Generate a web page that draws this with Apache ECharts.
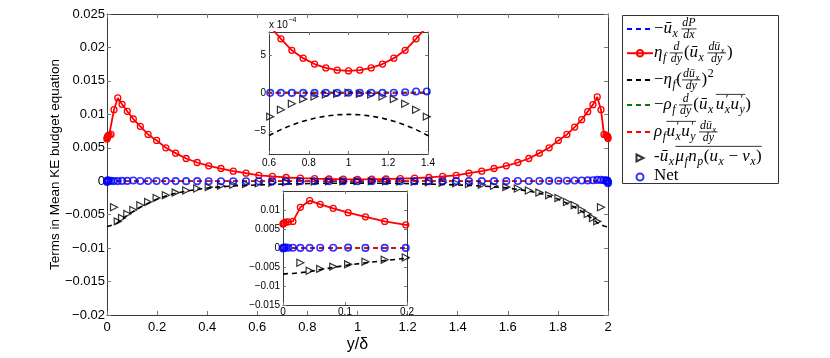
<!DOCTYPE html>
<html><head><meta charset="utf-8">
<script src="https://cdn.jsdelivr.net/npm/echarts@6/dist/echarts.min.js"></script>
<style>html,body{margin:0;padding:0;background:#fff}#c{width:830px;height:358px}</style>
</head><body><div id="c"></div>
<script>
// ---------------- data ----------------
const yPos = [0, 0.0005, 0.002, 0.0045, 0.0085, 0.016, 0.028, 0.043, 0.060, 0.081,
  0.105, 0.133, 0.164, 0.198, 0.235, 0.274, 0.316, 0.360, 0.406, 0.455,
  0.504, 0.555, 0.606, 0.660, 0.715, 0.772, 0.829, 0.886, 0.943, 1.000,
  1.057, 1.114, 1.171, 1.228, 1.285, 1.340, 1.394, 1.445, 1.496, 1.545,
  1.594, 1.640, 1.684, 1.726, 1.765, 1.802, 1.836, 1.867, 1.895, 1.919,
  1.940, 1.957, 1.972, 1.984, 1.9915, 1.9955, 1.998, 1.9995, 2.000];

const pressureWork = [0,0,0,0,0,0,0,0,0,0,
  0,0,0,0,0,0,0,0,0,0,
  0,0,0,0,0,0,0,0,0,0,
  0,0,0,0,0,0,0,0,0,0,
  0,0,0,0,0,0,0,0,0,0,
  0,0,0,0,0,0,0,0,0];

const viscousDiffusion = [0.0063, 0.0065, 0.0066, 0.0068, 0.0069, 0.0070, 0.0107, 0.01245, 0.0115, 0.01045,
  0.0093, 0.0082, 0.0070, 0.0061, 0.0050, 0.0042, 0.0034, 0.0028, 0.0023, 0.0019,
  0.0015, 0.0012, 0.00087, 0.00071, 0.00056, 0.000457, 0.00038, 0.000329, 0.000299, 0.00029,
  0.000299, 0.000329, 0.00038, 0.000457, 0.00056, 0.00071, 0.00087, 0.0012, 0.0015, 0.0019,
  0.0023, 0.0028, 0.0034, 0.0042, 0.0050, 0.0061, 0.0070, 0.0081, 0.0092, 0.0104,
  0.01145, 0.0126, 0.0107, 0.0070, 0.0069, 0.0068, 0.0067, 0.0066, 0.0064];

const viscousDissipation = [-0.0068, -0.0068, -0.0068, -0.0068, -0.0067, -0.0067, -0.0065, -0.0062, -0.0057, -0.0051,
  -0.0045, -0.0039, -0.0033, -0.0027, -0.0022, -0.0018, -0.00148, -0.00122, -0.00100, -0.00084,
  -0.00071, -0.00062, -0.00055, -0.00048, -0.00042, -0.00037, -0.00033, -0.000303, -0.000286, -0.00028,
  -0.000286, -0.000303, -0.00033, -0.00037, -0.00042, -0.00048, -0.00055, -0.00062, -0.00071, -0.00084,
  -0.00100, -0.00122, -0.00148, -0.0018, -0.0022, -0.0027, -0.0033, -0.0039, -0.0045, -0.0051,
  -0.0057, -0.0062, -0.0065, -0.0067, -0.0067, -0.0068, -0.0068, -0.0068, -0.0068];

const turbulentTransport = [0.00001,0.00001,0.00001,0.00001,0.00001,0.00001,0.00001,0.00001,0.00001,0.00001,
  0.00001,0.00001,0.00001,0.00001,0.00001,0.00001,0.00001,0.00001,0.00001,0.00001,
  0.00001,0.00001,0.00001,0.00001,0.00001,0.00001,0.00001,0.00001,0.00001,0.00001,
  0.00001,0.00001,0.00001,0.00001,0.00001,0.00001,0.00001,0.00001,0.00001,0.00001,
  0.00001,0.00001,0.00001,0.00001,0.00001,0.00001,0.00001,0.00001,0.00001,0.00001,
  0.00001,0.00001,0.00001,0.00001,0.00001,0.00001,0.00001,0.00001,0.00001];

const turbulentProduction = [-0.000004,-0.000004,-0.000004,-0.000004,-0.000004,-0.000004,-0.000004,-0.000004,-0.000004,-0.000004,
  -0.000004,-0.000004,-0.000004,-0.000004,-0.000004,-0.000004,-0.000004,-0.000004,-0.000004,-0.000004,
  -0.000004,-0.000004,-0.000004,-0.000004,-0.000004,-0.000004,-0.000004,-0.000004,-0.000004,-0.000004,
  -0.000004,-0.000004,-0.000004,-0.000004,-0.000004,-0.000004,-0.000004,-0.000004,-0.000004,-0.000004,
  -0.000004,-0.000004,-0.000004,-0.000004,-0.000004,-0.000004,-0.000004,-0.000004,-0.000004,-0.000004,
  -0.000004,-0.000004,-0.000004,-0.000004,-0.000004,-0.000004,-0.000004,-0.000004,-0.000004];

const particleDrag = [null, null, null, null, null, null, -0.0039, -0.0060, -0.0055, -0.0049,
  -0.0043, -0.0036, -0.0031, -0.0025, -0.0021, -0.0017, -0.0014, -0.0011, -0.00088, -0.00068,
  -0.00052, -0.00041, -0.00031, -0.00022, -0.00014, -0.00008, -0.000047, -0.00002, -0.00001, 0.000003,
  -0.00001, -0.00002, -0.000047, -0.00008, -0.00014, -0.00022, -0.00031, -0.00041, -0.00052, -0.00068,
  -0.00088, -0.0011, -0.0014, -0.0017, -0.0021, -0.0025, -0.0031, -0.0036, -0.0043, -0.0049,
  -0.0055, -0.0060, -0.0039, null, null, null, null, null, null];

const netTerm = [-0.0001, 0.00005, 0.0001, 0.0001, 0.00008, 0.00005, 0.00002, 0.00002, 0.00005, 0.00005,
  0.0001, 0.00003, 0.00003, 0.00003, 0.00002, 0.00002, 0.00001, 0.00001, 0.000005, 0.000005,
  0.000004, 0.000003, 0.000002, 0.000002, 0.000001, 0.000001, 0.000001, 0.000001, 0.000002, 0.000003,
  0.000002, 0.000002, 0.000002, 0.000003, 0.00001, 0.00002, 0.00002, 0.00001, 0.00002, 0.00001,
  0.00002, 0.00003, 0.00003, 0.00004, 0.00005, 0.00006, 0.00008, 0.0001, 0.0001, 0.00012,
  0.00015, 0.0002, 0.0002, 0.00015, 0.0001, 0.0001, 0.00005, -0.0001, -0.0003];

const seriesNames = ['Pressure work', 'Viscous diffusion', 'Viscous dissipation',
  'Turbulent transport', 'Turbulent production', 'Particle drag', 'Net'];

const inset1XTicks = [0.6, 0.8, 1, 1.2, 1.4];
const inset1YTicks = [-0.0005, 0, 0.0005];
const inset2YTicks = [-0.015, -0.01, -0.005, 0, 0.005, 0.01];

// legend labels (LaTeX-like token lists)
const subX = {sub: ['x']};
const fracDux = {frac: [['dū', subX], ['dy']]};
const uxuy = {over: ['u', {ss: [['x'], [{u: '′'}]]}, 'u', {ss: [['y'], [{u: '′'}]]}]};
const legendLabels = [
  [{u: '−'}, 'ū', subX, {sp: 3}, {frac: [['dP'], ['dx']]}],
  ['η', {sub: ['f']}, {sp: 3}, {frac: [['d'], ['dy']]}, {u: '('}, 'ū', subX, {sp: 3}, fracDux, {u: ')'}],
  [{u: '−'}, 'η', {sub: ['f']}, {u: '('}, fracDux, {u: ')'}, {sup: [{u: '2'}]}],
  [{u: '−'}, 'ρ', {sub: ['f']}, {sp: 3}, {frac: [['d'], ['dy']]}, {u: '('}, 'ū', subX, {sp: 2}, uxuy, {u: ')'}],
  ['ρ', {sub: ['f']}, uxuy, {sp: 3}, fracDux],
  [{u: '-'}, 'ū', subX, {sp: 1}, {over: ['μ', {sub: ['f']}, 'n', {sub: ['p']}, {u: '('}, 'u', subX, {u: ' − '}, 'v', subX, {u: ')'}]}],
  [{u: 'Net'}]
];

// ---------------- helpers ----------------
const fmt = v => String(+(+v).toFixed(6)).replace('-', '\u2212');
const pairs = ys => yPos.map((x, i) => [x, ys[i]]).filter(p => p[1] !== null);

const AX = '#3a3a3a', TK = '#7a7a7a';
const SANS = 'Liberation Sans', SERIF = 'Liberation Serif';

function axisBase(gi, extra) {
  return Object.assign({
    gridIndex: gi, type: 'value',
    axisLine: {show: true, onZero: false, lineStyle: {color: AX, width: 1}},
    axisTick: {show: true, inside: true, length: 4, lineStyle: {color: TK}},
    splitLine: {show: false},
  }, extra);
}
const smallTick = cv => ({show: true, inside: true, length: 3, lineStyle: {color: TK}, customValues: cv});

const xAxis = [
  axisBase(0, {position: 'bottom', min: 0, max: 2, interval: 0.2,
    axisLabel: {formatter: fmt, fontSize: 13, fontFamily: SANS, color: '#000', margin: 6},
    name: 'y/δ', nameLocation: 'middle', nameGap: 22, nameMoveOverlap: false,
    nameTextStyle: {fontSize: 16, fontFamily: SANS, color: '#000'}}),
  axisBase(0, {position: 'top', min: 0, max: 2, interval: 0.2, axisLabel: {show: false}}),
  axisBase(1, {position: 'bottom', min: 0.6, max: 1.4, z: 6, axisTick: smallTick(inset1XTicks),
    axisLabel: {formatter: fmt, fontSize: 10, fontFamily: SANS, color: '#000', margin: 4, customValues: inset1XTicks}}),
  axisBase(1, {position: 'top', min: 0.6, max: 1.4, z: 6, axisTick: smallTick(inset1XTicks), axisLabel: {show: false}}),
  axisBase(2, {position: 'bottom', min: 0, max: 0.2, interval: 0.1, z: 6,
    axisTick: {show: true, inside: true, length: 3, lineStyle: {color: TK}},
    axisLabel: {formatter: fmt, fontSize: 10, fontFamily: SANS, color: '#000', margin: 2}}),
  axisBase(2, {position: 'top', min: 0, max: 0.2, interval: 0.1, z: 6,
    axisTick: {show: true, inside: true, length: 3, lineStyle: {color: TK}}, axisLabel: {show: false}})
];

const yAxis = [
  axisBase(0, {position: 'left', min: -0.02, max: 0.025, interval: 0.005,
    axisLabel: {formatter: fmt, fontSize: 13, fontFamily: SANS, color: '#000', margin: 2},
    name: 'Terms in Mean KE budget equation', nameLocation: 'middle', nameGap: 45, nameRotate: 90,
    nameMoveOverlap: false,
    nameTextStyle: {fontSize: 13.5, fontFamily: SANS, color: '#000'}}),
  axisBase(0, {position: 'right', min: -0.02, max: 0.025, interval: 0.005, axisLabel: {show: false}}),
  axisBase(1, {position: 'left', min: -0.0008, max: 0.0008, z: 6, axisTick: smallTick(inset1YTicks),
    axisLabel: {formatter: v => fmt(v * 1e4), fontSize: 10, fontFamily: SANS, color: '#000', margin: 3, customValues: inset1YTicks}}),
  axisBase(1, {position: 'right', min: -0.0008, max: 0.0008, z: 6, axisTick: smallTick(inset1YTicks), axisLabel: {show: false}}),
  axisBase(2, {position: 'left', min: -0.015, max: 0.015, z: 6, axisTick: smallTick(inset2YTicks),
    axisLabel: {formatter: fmt, fontSize: 10, fontFamily: SANS, color: '#000', margin: 3, customValues: inset2YTicks}}),
  axisBase(2, {position: 'right', min: -0.015, max: 0.015, z: 6, axisTick: smallTick(inset2YTicks), axisLabel: {show: false}})
];

function seriesFor(gi) {
  const base = {xAxisIndex: gi * 2, yAxisIndex: gi * 2, z: gi ? 7 : 2, animation: false, silent: true};
  const dash = [5, 4];
  return [
    Object.assign({name: seriesNames[0], type: 'line', data: pairs(pressureWork), symbol: 'none',
      lineStyle: {color: '#0000ff', width: 1.5, type: dash}, itemStyle: {color: '#0000ff'}}, base),
    Object.assign({name: seriesNames[1], type: 'line', data: pairs(viscousDiffusion), symbol: 'circle',
      symbolSize: 6, showAllSymbol: true,
      lineStyle: {color: '#ff0000', width: 1.8},
      itemStyle: {color: 'rgba(255,255,255,0)', borderColor: '#ff0000', borderWidth: 1.3}}, base),
    Object.assign({name: seriesNames[2], type: 'line', data: pairs(viscousDissipation), symbol: 'none',
      lineStyle: {color: '#000000', width: 1.6, type: dash}, itemStyle: {color: '#000000'}}, base),
    Object.assign({name: seriesNames[3], type: 'line', data: pairs(turbulentTransport), symbol: 'none',
      lineStyle: {color: '#008000', width: 1.5, type: dash}, itemStyle: {color: '#008000'}}, base),
    Object.assign({name: seriesNames[4], type: 'line', data: pairs(turbulentProduction), symbol: 'none',
      lineStyle: {color: '#ff0000', width: 1.5, type: dash}, itemStyle: {color: '#ff0000'}}, base),
    Object.assign({name: seriesNames[5], type: 'scatter', data: pairs(particleDrag), symbol: 'triangle',
      symbolRotate: -90, symbolSize: 7,
      itemStyle: {color: 'rgba(255,255,255,0)', borderColor: '#000000', borderWidth: 1.2}}, base),
    Object.assign({name: seriesNames[6], type: 'scatter', data: pairs(netTerm), symbol: 'circle',
      symbolSize: 6.5,
      itemStyle: {color: 'rgba(255,255,255,0)', borderColor: '#0000ff', borderWidth: 1.6}}, base)
  ];
}

// ---------------- legend (icons via ECharts legend, math text via graphic) ----------------
const legendRowY = [29, 53, 80, 105, 132, 157, 176];
const legendKind = ['dash', 'marker', 'dash', 'dash', 'dash', 'tri', 'dot'];
const legends = seriesNames.map((n, i) => {
  const k = legendKind[i];
  const L = {data: [n], orient: 'vertical', padding: 0, selectedMode: false,
    formatter: () => '', textStyle: {fontSize: 6}};
  if (k === 'dash' || k === 'marker') {
    Object.assign(L, {left: 626, top: legendRowY[i] - 4, itemWidth: 26, itemHeight: 8});
    if (k === 'dash') L.itemStyle = {opacity: 0};
  } else {
    const s = 7;
    Object.assign(L, {left: 639 - s / 2, top: legendRowY[i] - s / 2, itemWidth: s, itemHeight: s,
      symbolRotate: 0});
    L.icon = k === 'tri' ? 'path://M0,0L8,4L0,8Z' : 'circle';
  }
  return L;
});

const mctx = document.createElement('canvas').getContext('2d');
function fontStr(fs, it) { return (it ? 'italic ' : '') + fs.toFixed(1) + 'px "' + SERIF + '"'; }
function txt(s, x, base, fs, it, out) {
  mctx.font = fontStr(fs, it);
  const w = mctx.measureText(s).width;
  if (out) out.push({type: 'text', x: x, y: base - 0.34 * fs, z2: 10, silent: true,
    style: {text: s, font: fontStr(fs, it), fill: '#000', align: 'left', verticalAlign: 'middle',
      textAlign: 'left', textVerticalAlign: 'middle'}});
  return w;
}
function lay(tokens, x0, base, fs, out) {
  let x = x0;
  for (const tk of tokens) {
    if (typeof tk === 'string') x += txt(tk, x, base, fs, true, out);
    else if (tk.u !== undefined) x += txt(tk.u, x, base, fs, false, out);
    else if (tk.sp !== undefined) x += tk.sp;
    else if (tk.sub) x += lay(tk.sub, x + 0.5, base + fs * 0.24, fs * 0.7, out) + 1;
    else if (tk.sup) x += lay(tk.sup, x + 0.5, base - fs * 0.42, fs * 0.7, out) + 1;
    else if (tk.ss) {
      const w1 = lay(tk.ss[0], x + 0.5, base + fs * 0.24, fs * 0.7, out);
      const w2 = lay(tk.ss[1], x + 1.5, base - fs * 0.38, fs * 0.7, out);
      x += Math.max(w1, w2 + 1) + 1;
    } else if (tk.frac) {
      const f2 = fs * 0.7;
      const wn = lay(tk.frac[0], 0, 0, f2, null), wd = lay(tk.frac[1], 0, 0, f2, null);
      const w = Math.max(wn, wd) + 2;
      const bar = base - fs * 0.3;
      lay(tk.frac[0], x + (w - wn) / 2, bar - 2.2, f2, out);
      lay(tk.frac[1], x + (w - wd) / 2, bar + 2 + 0.7 * f2, f2, out);
      if (out) out.push({type: 'line', silent: true, z2: 10, shape: {x1: x, y1: bar, x2: x + w, y2: bar},
        style: {stroke: '#000', lineWidth: 0.8}});
      x += w + 1;
    } else if (tk.over) {
      const w = lay(tk.over, x, base, fs, out);
      const oy = base - fs * 0.92;
      if (out) out.push({type: 'line', silent: true, z2: 10, shape: {x1: x, y1: oy, x2: x + w, y2: oy},
        style: {stroke: '#000', lineWidth: 0.8}});
      x += w;
    }
  }
  return x - x0;
}

const graphics = [{type: 'rect', silent: true, z2: 0, shape: {x: 622.5, y: 15.5, width: 156, height: 168},
  style: {fill: '#fff', stroke: '#333', lineWidth: 1}}];
legendLabels.forEach((toks, i) => lay(toks, 654, legendRowY[i] + 5, 17, graphics));
// inset exponent "x 10^-4"
{
  mctx.font = '10px "' + SANS + '"';
  const w = mctx.measureText('x 10').width;
  graphics.push({type: 'text', x: 269, y: 25, silent: true, z2: 10,
    style: {text: 'x 10', font: '10px "' + SANS + '"', fill: '#000', align: 'left', verticalAlign: 'middle',
      textAlign: 'left', textVerticalAlign: 'middle'}});
  graphics.push({type: 'text', x: 269 + w + 0.5, y: 20, silent: true, z2: 10,
    style: {text: '\u22124', font: '7px "' + SANS + '"', fill: '#000', align: 'left', verticalAlign: 'middle',
      textAlign: 'left', textVerticalAlign: 'middle'}});
}

const chart = echarts.init(document.getElementById('c'), null, {renderer: 'canvas'});
chart.setOption({
  animation: false,
  backgroundColor: '#fff',
  grid: [
    {left: 107, top: 14, width: 501, height: 304},
    {left: 269, top: 32, width: 159, height: 122, show: true, backgroundColor: '#fff', borderWidth: 0, z: 5},
    {left: 283, top: 191, width: 124, height: 114, show: true, backgroundColor: '#fff', borderWidth: 0, z: 5}
  ],
  xAxis: xAxis,
  yAxis: yAxis,
  legend: legends,
  series: [].concat(seriesFor(0), seriesFor(1), seriesFor(2)),
  graphic: {elements: graphics}
});
</script>
</body></html>
